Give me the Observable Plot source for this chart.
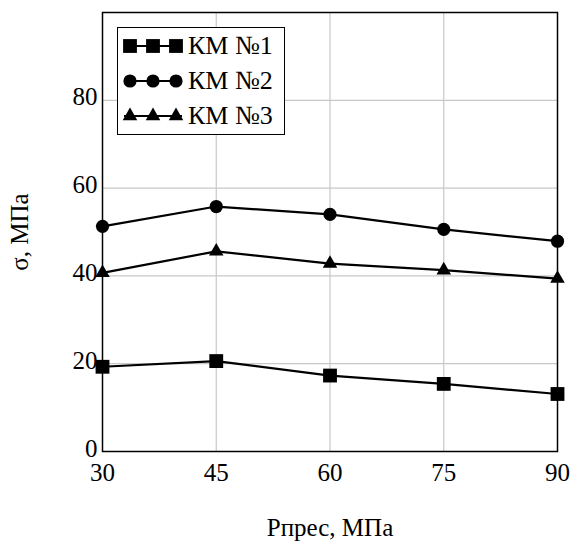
<!DOCTYPE html>
<html>
<head>
<meta charset="utf-8">
<script src="https://cdn.jsdelivr.net/npm/d3@7"></script>
<script src="https://cdn.jsdelivr.net/npm/@observablehq/plot@0.6"></script>
<style>
  html, body { margin: 0; padding: 0; background: #fff; }
  #wrap { position: relative; width: 579px; height: 542px; font-family: 'Liberation Serif', 'Times New Roman', 'DejaVu Serif', serif; }
  #legend { position: absolute; left: 117px; top: 27px; width: 168px; height: 108px; border: 1.5px solid #000; background: #fff; box-sizing: border-box; }
  svg text { font-family: 'Liberation Serif', 'Times New Roman', 'DejaVu Serif', serif !important; }
</style>
</head>
<body>
<div id="wrap"><div id="legend"></div></div>
<script>
const pressures = [30, 45, 60, 75, 90];
const seriesNames = ["КМ №1", "КМ №2", "КМ №3"];
const seriesSymbols = ["square", "circle", "triangle"];
const km1 = [19.3, 20.6, 17.3, 15.4, 13.1];
const km2 = [51.3, 55.8, 54.0, 50.6, 47.9];
const km3 = [40.7, 45.6, 42.8, 41.3, 39.4];
const xTicks = [30, 45, 60, 75, 90];
const yTicks = [0, 20, 40, 60, 80];
const xLabel = "Pпрес, МПа";
const yLabel = "σ, МПа";

const seriesValues = [km1, km2, km3];
const rows = [];
seriesNames.forEach((name, i) => {
  pressures.forEach((p, j) => rows.push({series: name, symbol: seriesSymbols[i], p, v: seriesValues[i][j]}));
});
const symbolR = {square: 7.8, circle: 6.6, triangle: 5.4};

const font = "'Liberation Serif', 'Times New Roman', 'DejaVu Serif', serif";
const chart = Plot.plot({
  width: 579,
  height: 542,
  marginLeft: 102,
  marginRight: 22,
  marginTop: 12,
  marginBottom: 91,
  style: {fontFamily: font, fontSize: "25px", color: "#000", background: "#fff", overflow: "visible"},
  x: {domain: [30, 90]},
  y: {domain: [0, 100]},
  marks: [
    Plot.gridX(xTicks.slice(1, -1), {stroke: "#c8c8c8", strokeOpacity: 1, strokeWidth: 1.2}),
    Plot.gridY(yTicks.slice(1), {stroke: "#c8c8c8", strokeOpacity: 1, strokeWidth: 1.2}),
    Plot.axisX(xTicks, {tickSize: 0, tickPadding: 12, fontSize: 25, label: null}),
    Plot.axisX({ticks: [], tickSize: 0, label: xLabel, labelAnchor: "center", labelOffset: 84, labelArrow: "none", fontSize: 25}),
    Plot.axisY(yTicks, {tickSize: 0, tickPadding: 5, fontSize: 25, dy: -3, label: null}),
    Plot.axisY({ticks: [], tickSize: 0, label: yLabel, labelAnchor: "center", labelOffset: 92, labelArrow: "none", fontSize: 25}),
    Plot.line(rows, {x: "p", y: "v", z: "series", stroke: "#000", strokeWidth: 2.2}),
    ...seriesSymbols.map(s => Plot.dot(rows.filter(d => d.symbol === s), {x: "p", y: "v", symbol: () => s, r: symbolR[s], fill: "#000", stroke: "none"})),
    Plot.frame({stroke: "#000", strokeWidth: 1.5})
  ]
});
document.getElementById("wrap").prepend(chart);

// legend
const lg = d3.select("#legend");
seriesNames.forEach((name, i) => {
  const row = lg.append("div").style("position", "absolute").style("left", "4px").style("top", (i * 35 + 1) + "px").style("height", "34px").style("display", "flex").style("align-items", "center");
  const svg = row.append("svg").attr("width", 62).attr("height", 34);
  svg.append("line").attr("x1", 2).attr("x2", 60).attr("y1", 17).attr("y2", 17).attr("stroke", "#000").attr("stroke-width", 2.2);
  const symType = {square: d3.symbolSquare, circle: d3.symbolCircle, triangle: d3.symbolTriangle}[seriesSymbols[i]];
  const r = symbolR[seriesSymbols[i]];
  [8, 31, 54].forEach(cx => {
    svg.append("path").attr("d", d3.symbol(symType, Math.PI * r * r)()).attr("transform", `translate(${cx},17)`).attr("fill", "#000");
  });
  row.append("span").text(name).style("font-size", "26px").style("margin-left", "4px").style("line-height", "34px").style("font-family", font);
});
</script>
</body>
</html>
